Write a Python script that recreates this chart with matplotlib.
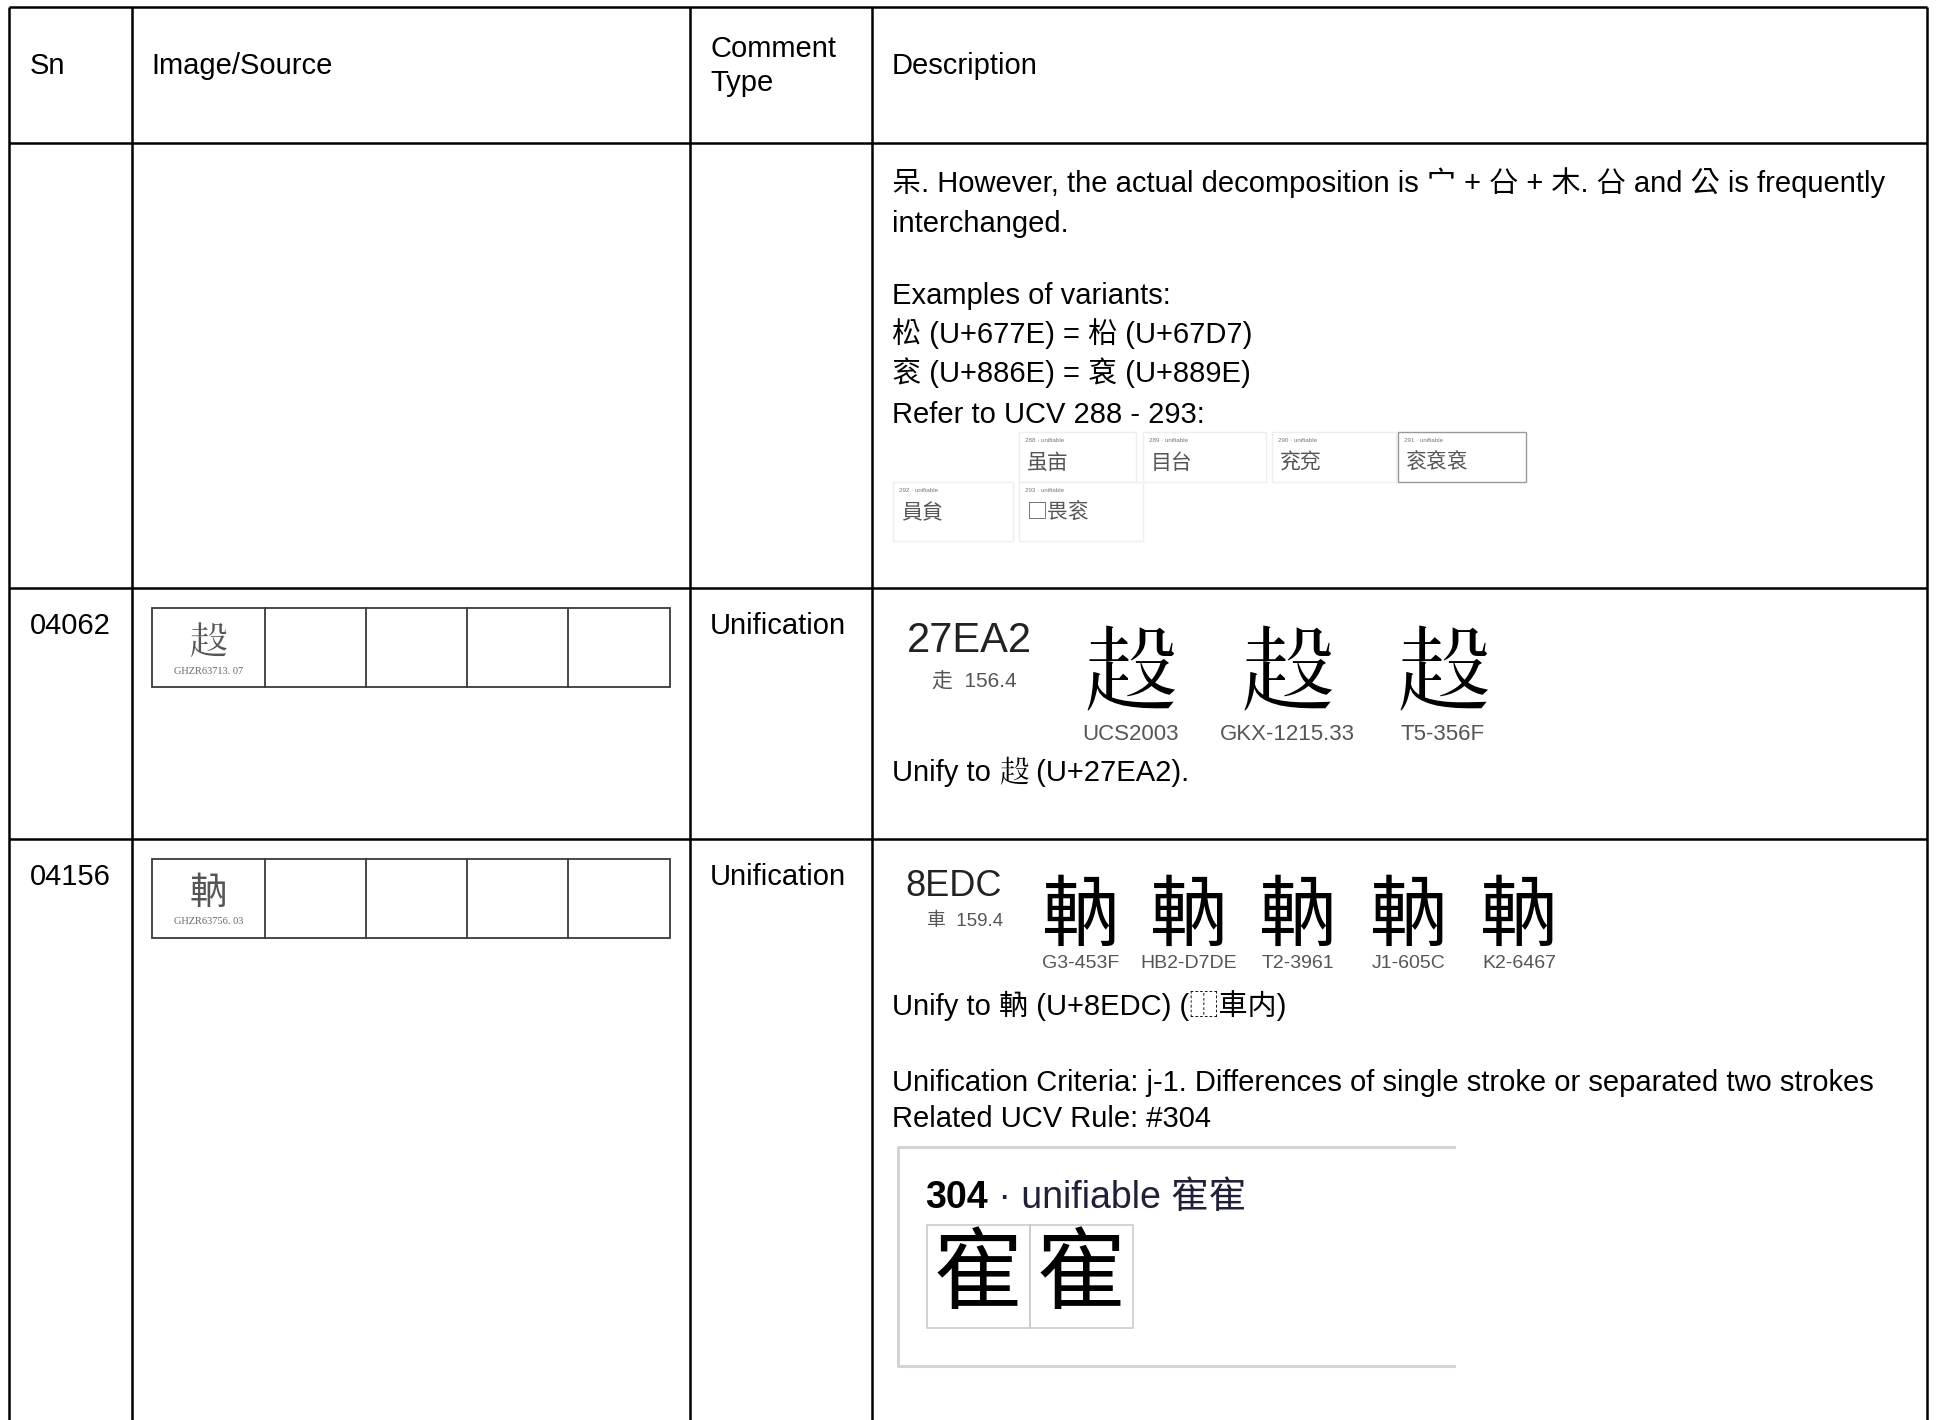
import matplotlib
matplotlib.use("Agg")
import matplotlib.pyplot as plt
from matplotlib.patches import Rectangle
from matplotlib import font_manager, ft2font

# ---------------- data ----------------
headers = ["Sn", "Image/Source", "Comment\nType", "Description"]
serial_numbers = ["04062", "04156"]
comment_types = ["Unification", "Unification"]
source_chars = ["\U00027EA2", "軜"]
source_refs = ["GHZR63713. 07", "GHZR63756. 03"]

row1_lines = [
    "呆. However, the actual decomposition is 宀 + 㕣 + 木. 㕣 and 公 is frequently",
    "interchanged.",
    "",
    "Examples of variants:",
    "松 (U+677E) = 柗 (U+67D7)",
    "衮 (U+886E) = 袞 (U+889E)",
    "Refer to UCV 288 - 293:",
]
ucv_numbers = ["288", "289", "290", "291", "292", "293"]
ucv_chars = ["虽亩", "目台", "兖兗", "衮袞袞", "員貟", "□畏衮"]

r2_code, r2_radical = "27EA2", "走  156.4"
r2_glyph = "\U00027EA2"
r2_glyph_parts = ("走", "殳")          # components of U+27EA2
r2_sources = ["UCS2003", "GKX-1215.33", "T5-356F"]
r2_note_before, r2_note_after = "Unify to ", " (U+27EA2)."

r3_code, r3_radical = "8EDC", "車  159.4"
r3_glyph = "軜"
r3_sources = ["G3-453F", "HB2-D7DE", "T2-3961", "J1-605C", "K2-6467"]
r3_notes = [
    "Unify to 軜 (U+8EDC) (⿰車内)",
    "",
    "Unification Criteria: j-1. Differences of single stroke or separated two strokes",
    "Related UCV Rule: #304",
]
ucv_rule_no, ucv_rule_label, ucv_rule_chars = "304", " · unifiable 寉寉", ["寉", "寉"]

# ---------------- fonts ----------------
CJK_FAMS = ["Noto Sans CJK TC", "Noto Sans CJK SC", "Noto Sans CJK KR", "Noto Sans CJK JP"]
LAT = ["Liberation Sans"] + CJK_FAMS + ["DejaVu Sans"]
CJK = CJK_FAMS + ["DejaVu Sans"]

ext_b_family = None
for fe in font_manager.fontManager.ttflist:
    try:
        if ord(r2_glyph) in ft2font.FT2Font(fe.fname).get_charmap():
            ext_b_family = fe.name
            break
    except Exception:
        pass

# ---------------- layout ----------------
W, H = 1937, 1420
fig = plt.figure(figsize=(W / 100, H / 100), dpi=100)
ax = fig.add_axes([0, 0, 1, 1])
ax.set_xlim(0, W)
ax.set_ylim(H, 0)
ax.axis("off")
BODY = 21


def draw_ext_b(cx, cy, fs, color):
    """Draw U+27EA2 centred at (cx, cy) (data = pixels)."""
    if ext_b_family:
        ax.text(cx, cy, r2_glyph, family=[ext_b_family], fontsize=fs, color=color,
                ha="center", va="center")
        return
    em = fs / 0.72
    a, b = r2_glyph_parts
    ax.text(cx, cy + 0.04 * em, a, family=CJK, fontsize=fs, color=color,
            ha="center", va="center", zorder=3)
    ax.add_patch(Rectangle((cx + 0.0 * em, cy - 0.55 * em), 0.52 * em, 0.66 * em,
                           fc="white", ec="none", zorder=4))
    ax.text(cx + 0.25 * em, cy - 0.17 * em, b, family=CJK, fontsize=fs * 0.58, color=color,
            ha="center", va="center", zorder=5)


col_x = [9, 132, 690, 872, 1927]
row_y = [7, 143, 588, 839]
LW = 1.8

for y in row_y:
    ax.plot([col_x[0], col_x[-1]], [y, y], color="black", lw=LW, solid_capstyle="butt")
for x in col_x:
    ax.plot([x, x], [row_y[0], H], color="black", lw=LW, solid_capstyle="butt")

# header
hx = [30, 151, 710, 892]
for x, t in zip(hx, headers):
    ax.text(x, 66, t, family=LAT, fontsize=BODY, va="center", ha="left", linespacing=1.25)

# Sn / Comment type
for i, (sn, ct) in enumerate(zip(serial_numbers, comment_types)):
    y0 = row_y[2 + i] + 38
    ax.text(30, y0, sn, family=LAT, fontsize=BODY, va="center")
    ax.text(710, y0, ct, family=LAT, fontsize=BODY, va="center")

# image/source strips
strip_x = [152, 265, 366, 467, 568, 670]
for i, (ch, ref) in enumerate(zip(source_chars, source_refs)):
    top = row_y[2 + i] + 20
    bot = top + 79
    ax.add_patch(Rectangle((strip_x[0], top), strip_x[-1] - strip_x[0], bot - top,
                           fill=False, ec="#3a3a3a", lw=1.3))
    for x in strip_x[1:-1]:
        ax.plot([x, x], [top, bot], color="#3a3a3a", lw=1.3)
    cx = (strip_x[0] + strip_x[1]) / 2
    if ch == r2_glyph:
        draw_ext_b(cx, top + 37, 27, "#555555")
    else:
        ax.text(cx, top + 34, ch, family=CJK, fontsize=27, color="#555555", ha="center", va="center")
    ax.text(cx, top + 63, ref, family=["Liberation Serif"], fontsize=7.5, color="#666666",
            ha="center", va="center")

# row 1 description
ly = [183, 224, 265, 296, 334, 373, 415]
for y, t in zip(ly, row1_lines):
    if t:
        ax.text(892, y, t, family=LAT, fontsize=BODY, va="center")

# UCV tiles
tiles = [(1019, 432, 117, 50), (1143, 432, 123, 50), (1272, 432, 124, 50), (1398, 432, 128, 50),
         (893, 482, 120, 59), (1019, 482, 124, 59)]
for k, ((x, y, w, h), n, c) in enumerate(zip(tiles, ucv_numbers, ucv_chars)):
    ax.add_patch(Rectangle((x, y), w, h, fill=True, fc="white",
                           ec="#999999" if k == 3 else "#eeeeee", lw=1.0))
    ax.text(x + 6, y + 9, n + " · unifiable", family=LAT, fontsize=4.5, color="#777777", va="center")
    ax.text(x + 8, y + 31, c, family=CJK, fontsize=15, color="#555555", va="center")

# row 2 description
ax.text(907, 641, r2_code, family=LAT, fontsize=30, color="#222222", va="center")
ax.text(932, 682, r2_radical, family=LAT, fontsize=15, color="#555555", va="center")
r2_cx = [1130, 1287, 1443]
for cx, s in zip(r2_cx, r2_sources):
    draw_ext_b(cx, 681, 66, "black")
    ax.text(cx, 735, s, family=LAT, fontsize=16, ha="center", va="center", color="#555555")

fig.canvas.draw()
inv = ax.transData.inverted()
tn = ax.text(892, 773, r2_note_before, family=LAT, fontsize=BODY, va="center")
fig.canvas.draw()
xe = inv.transform((tn.get_window_extent().x1, 0))[0]
em_b = BODY / 0.72
draw_ext_b(xe + 0.5 * em_b, 775, BODY, "black")
ax.text(xe + 1.0 * em_b, 773, r2_note_after, family=LAT, fontsize=BODY, va="center")

# row 3 description
ax.text(905, 886, r3_code, family=LAT, fontsize=26, color="#222222", va="center")
ax.text(927, 921, r3_radical, family=LAT, fontsize=13.5, color="#555555", va="center")
r3_cx = [1081, 1189, 1298, 1409, 1519]
for cx, s in zip(r3_cx, r3_sources):
    ax.text(cx, 918, r3_glyph, family=CJK, fontsize=56, ha="center", va="center", color="black")
    ax.text(cx, 964, s, family=LAT, fontsize=14, ha="center", va="center", color="#555555")
for y, t in zip([1006, 1045, 1083, 1119], r3_notes):
    if t:
        ax.text(892, y, t, family=LAT, fontsize=BODY, va="center")

# UCV 304 image
ax.plot([1454, 898, 898, 1454], [1147, 1147, 1366, 1366], color="#d4d4d4", lw=2.2)
t1 = ax.text(925, 1198, ucv_rule_no, family=LAT, fontsize=27, fontweight="bold", va="center")
fig.canvas.draw()
x_after = inv.transform((t1.get_window_extent().x1, 0))[0]
ax.text(x_after, 1198, ucv_rule_label, family=LAT, fontsize=27, color="#20203a", va="center")
bx = [927, 1030]
for x, c in zip(bx, ucv_rule_chars):
    ax.add_patch(Rectangle((x, 1225), 103, 103, fill=False, ec="#cccccc", lw=1.2))
    ax.text(x + 51.5, 1277, c, family=CJK, fontsize=64, ha="center", va="center")

fig.savefig("out.png", dpi=100, facecolor="white")
